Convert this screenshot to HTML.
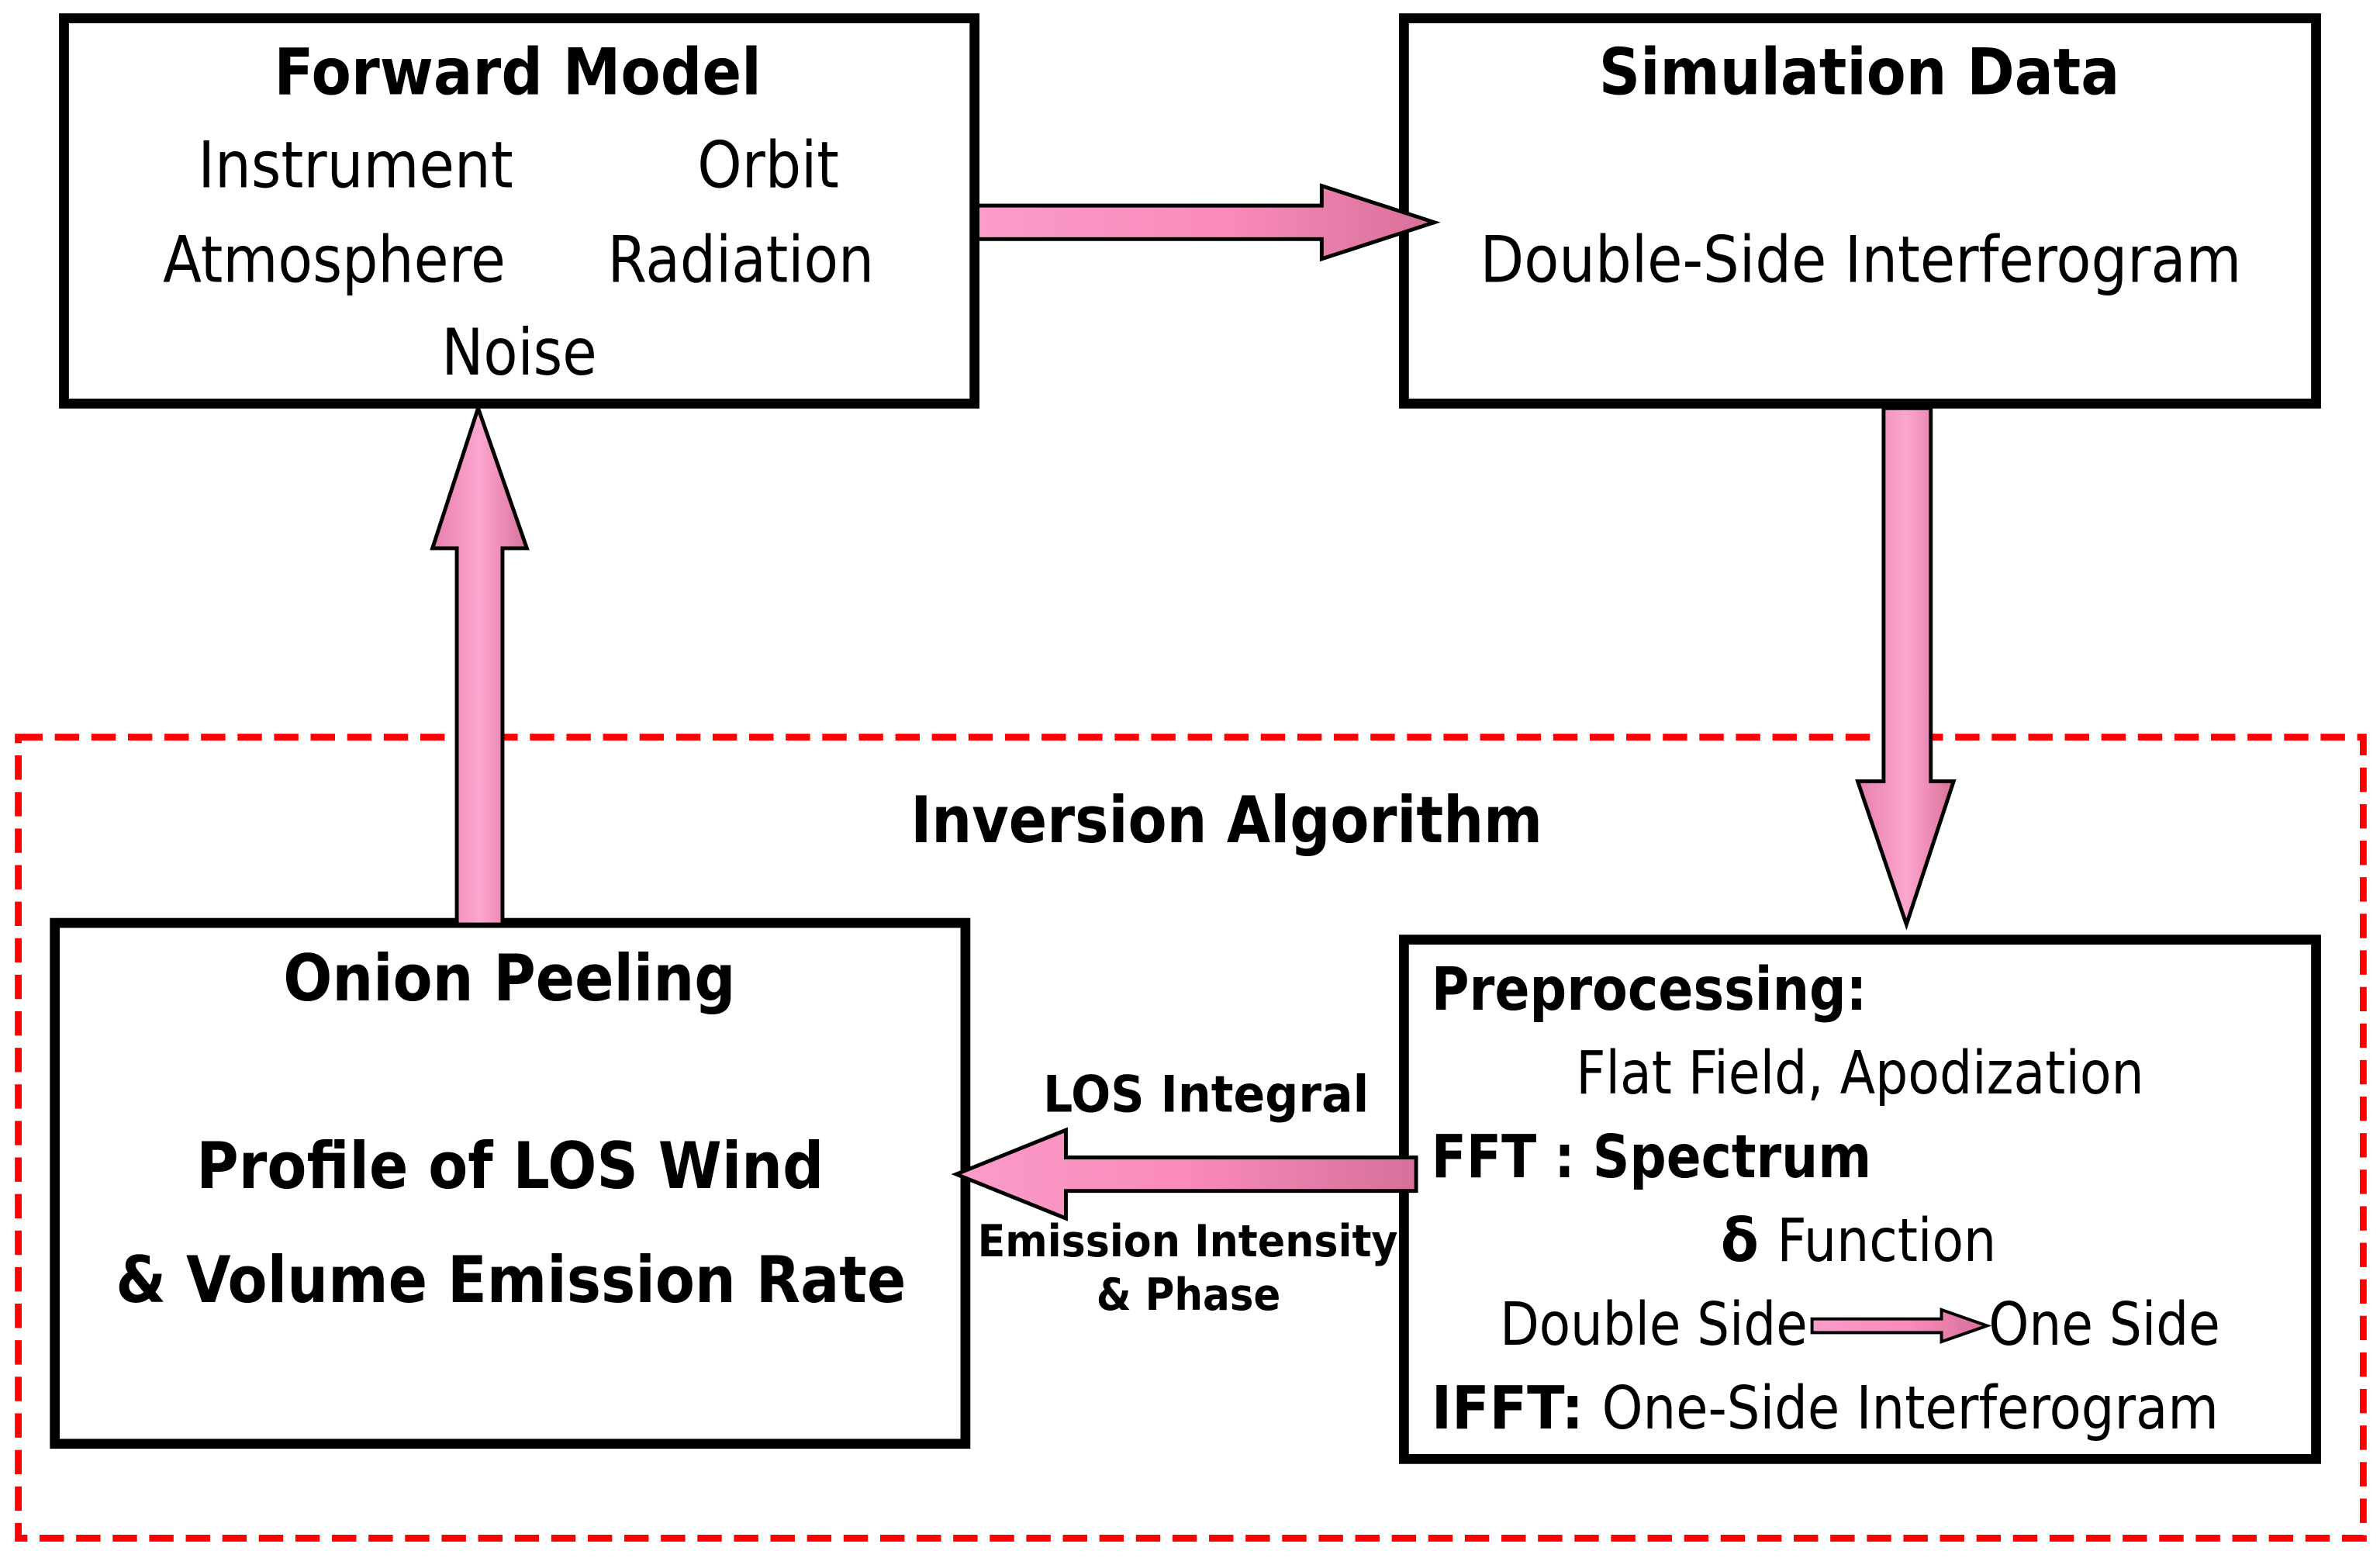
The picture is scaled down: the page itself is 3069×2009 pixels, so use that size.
<!DOCTYPE html>
<html><head><meta charset="utf-8"><style>html,body{margin:0;padding:0;background:#fff}svg{display:block}</style></head>
<body>
<svg width="3069" height="2009" viewBox="0 0 1563 1023" preserveAspectRatio="none" xmlns="http://www.w3.org/2000/svg" font-family="'DejaVu Sans','Liberation Sans',sans-serif">
<defs>
<linearGradient id="gh" x1="0" y1="0" x2="1" y2="0"><stop offset="0" stop-color="#fb9ccb"/><stop offset="0.55" stop-color="#f98ab9"/><stop offset="1" stop-color="#d6709a"/></linearGradient>
<linearGradient id="gl" x1="1" y1="0" x2="0" y2="0"><stop offset="0" stop-color="#d6709a"/><stop offset="0.5" stop-color="#f98ab9"/><stop offset="1" stop-color="#fb9ccb"/></linearGradient>
<linearGradient id="gv" x1="0" y1="0" x2="1" y2="0"><stop offset="0" stop-color="#e77fac"/><stop offset="0.5" stop-color="#fca6cf"/><stop offset="1" stop-color="#d9709a"/></linearGradient>
</defs>
<rect x="12" y="484" width="1540" height="526" fill="none" stroke="#ff0000" stroke-width="4.5" stroke-dasharray="16 8"/>
<g fill="none" stroke="#000" stroke-width="6.5">
<rect x="42" y="12" width="598" height="253"/>
<rect x="922" y="12" width="599" height="253"/>
<rect x="36" y="606" width="598" height="342"/>
<rect x="922" y="617" width="599" height="341"/>
</g>
<g stroke="#000" stroke-width="2.5" stroke-linejoin="miter">
<polygon points="642,135 868,135 868,122 942,146 868,170 868,157 642,157" fill="url(#gh)"/>
<polygon points="1237,268 1268,268 1268,513 1283,513 1252,607 1220,513 1237,513" fill="url(#gv)"/>
<polygon points="300,607 300,360 284,360 314,268 346,360 330,360 330,607" fill="url(#gv)"/>
<polygon points="930,760 700,760 700,742 628,771 700,800 700,782 930,782" fill="url(#gl)"/>
<polygon points="1190,866 1275,866 1275,860 1305,870.5 1275,881 1275,875 1190,875" fill="url(#gh)" stroke-width="2"/>
</g>
<g fill="#000">
<g font-weight="bold" font-size="42">
<text x="180" y="62" textLength="320" lengthAdjust="spacingAndGlyphs">Forward Model</text>
<text x="1050" y="62" textLength="342" lengthAdjust="spacingAndGlyphs">Simulation Data</text>
<text x="598" y="553" textLength="415" lengthAdjust="spacingAndGlyphs">Inversion Algorithm</text>
<text x="186" y="657" textLength="297" lengthAdjust="spacingAndGlyphs">Onion Peeling</text>
<text x="129" y="780" textLength="412" lengthAdjust="spacingAndGlyphs">Profile of LOS Wind</text>
<text x="76" y="855" textLength="519" lengthAdjust="spacingAndGlyphs">&amp; Volume Emission Rate</text>
</g>
<g font-size="42">
<text x="130" y="123" textLength="207" lengthAdjust="spacingAndGlyphs">Instrument</text>
<text x="458" y="123" textLength="93" lengthAdjust="spacingAndGlyphs">Orbit</text>
<text x="107" y="185" textLength="225" lengthAdjust="spacingAndGlyphs">Atmosphere</text>
<text x="399" y="185" textLength="175" lengthAdjust="spacingAndGlyphs">Radiation</text>
<text x="290" y="246" textLength="102" lengthAdjust="spacingAndGlyphs">Noise</text>
<text x="972" y="185" textLength="500" lengthAdjust="spacingAndGlyphs">Double-Side Interferogram</text>
</g>
<text x="685" y="730" font-weight="bold" font-size="33" textLength="214" lengthAdjust="spacingAndGlyphs">LOS Integral</text>
<text x="642" y="825" font-weight="bold" font-size="29" textLength="276" lengthAdjust="spacingAndGlyphs">Emission Intensity</text>
<text x="720" y="860" font-weight="bold" font-size="29" textLength="121" lengthAdjust="spacingAndGlyphs">&amp; Phase</text>
<g font-size="39">
<text x="940" y="663" font-weight="bold" textLength="286" lengthAdjust="spacingAndGlyphs">Preprocessing:</text>
<text x="1035" y="718" textLength="373" lengthAdjust="spacingAndGlyphs">Flat Field, Apodization</text>
<text x="940" y="773" font-weight="bold" textLength="289" lengthAdjust="spacingAndGlyphs">FFT : Spectrum</text>
<text x="1130" y="828" font-weight="bold" textLength="25" lengthAdjust="spacingAndGlyphs">δ</text>
<text x="1167" y="828" textLength="144" lengthAdjust="spacingAndGlyphs">Function</text>
<text x="985" y="883" textLength="202" lengthAdjust="spacingAndGlyphs">Double Side</text>
<text x="1306" y="883" textLength="152" lengthAdjust="spacingAndGlyphs">One Side</text>
<text x="940" y="938" font-weight="bold" textLength="100" lengthAdjust="spacingAndGlyphs">IFFT:</text>
<text x="1052" y="938" textLength="405" lengthAdjust="spacingAndGlyphs">One-Side Interferogram</text>
</g>
</g>
</svg>
</body></html>
